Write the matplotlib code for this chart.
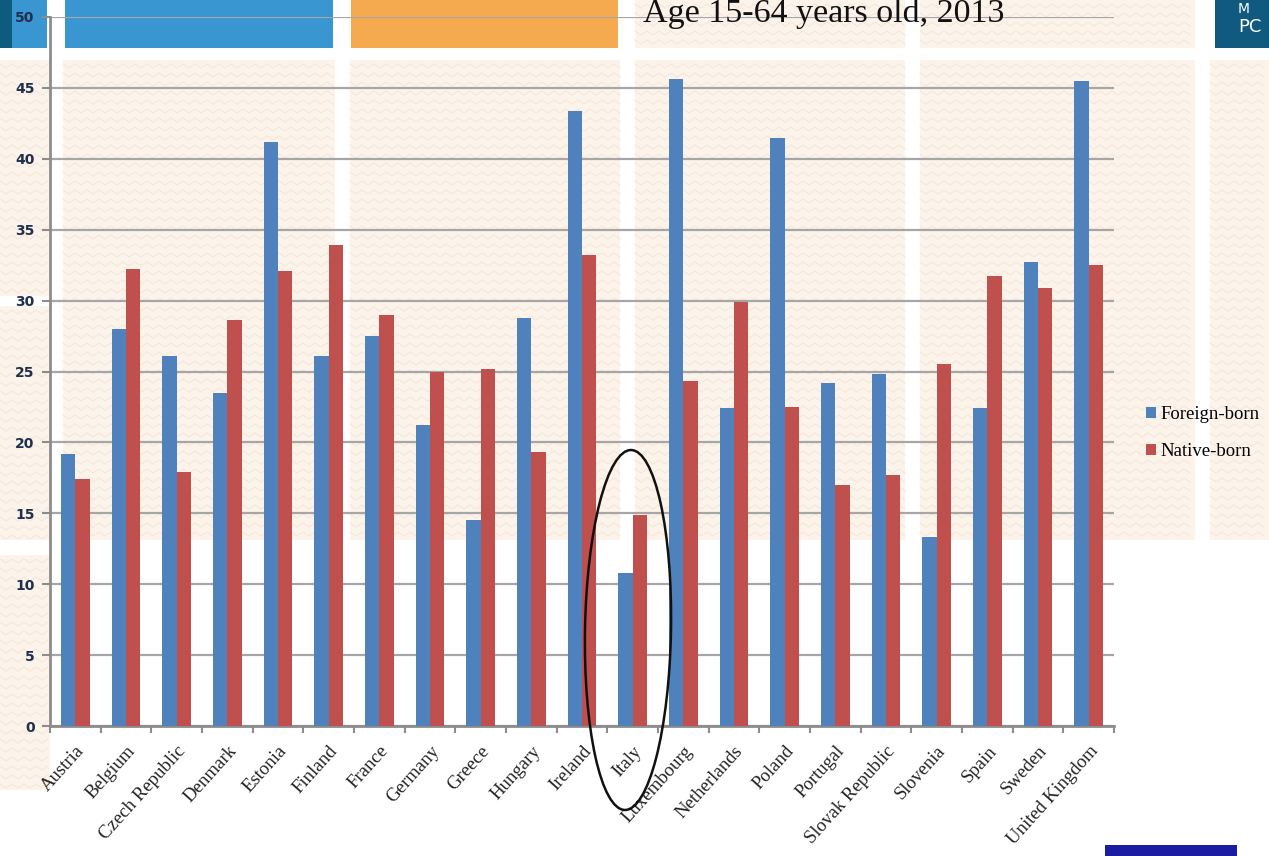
import matplotlib
matplotlib.use('Agg')
import matplotlib.pyplot as plt
from matplotlib.patches import Rectangle, Ellipse, Patch
import numpy as np

countries = ['Austria', 'Belgium', 'Czech Republic', 'Denmark', 'Estonia', 'Finland',
             'France', 'Germany', 'Greece', 'Hungary', 'Ireland', 'Italy', 'Luxembourg',
             'Netherlands', 'Poland', 'Portugal', 'Slovak Republic', 'Slovenia', 'Spain',
             'Sweden', 'United Kingdom']
foreign_born = [19.2, 28.0, 26.1, 23.5, 41.2, 26.1, 27.5, 21.2, 14.5, 28.8, 43.4,
                10.8, 45.6, 22.4, 41.5, 24.2, 24.8, 13.3, 22.4, 32.7, 45.5]
native_born = [17.4, 32.2, 17.9, 28.6, 32.1, 33.9, 29.0, 25.0, 25.2, 19.3, 33.2,
               14.9, 24.3, 29.9, 22.5, 17.0, 17.7, 25.5, 31.7, 30.9, 32.5]
y_ticks = list(range(0, 51, 5))
series_labels = ['Foreign-born', 'Native-born']
title = 'Age 15-64 years old, 2013'

W, H = 1269, 856
fig = plt.figure(figsize=(W / 100, H / 100), dpi=100)
fig.patch.set_facecolor('white')


def rect(x0, y0, x1, y1, color, z=-5):
    fig.add_artist(Rectangle((x0 / W, 1 - y1 / H), (x1 - x0) / W, (y1 - y0) / H,
                             transform=fig.transFigure, facecolor=color,
                             edgecolor='none', zorder=z))


def chevrons(x0, y0, x1, y1):
    xs = np.arange(x0, x1 + 1, 6.0)
    zig = np.where(((xs - x0) // 6) % 2 == 0, 0.0, 4.0)
    for yy in np.arange(y0 + 4, y1 - 4, 9.0):
        fig.add_artist(plt.Line2D(xs / W, 1 - (yy + zig) / H, transform=fig.transFigure,
                                  color='#F5E8DA', lw=0.8, zorder=-4))


# slide background tiles (beige pattern areas)
beige = '#FCF4EB'
cols = [(63, 335), (350, 620), (635, 905), (920, 1195), (1210, 1269)]
tiles = [(c0, 60, c1, 540) for (c0, c1) in cols]
tiles += [(0, 60, 50, 296), (0, 306, 50, 540), (0, 555, 50, 790),
          (635, 0, 905, 48), (920, 0, 1195, 48)]
for t in tiles:
    rect(*t, beige)
    chevrons(*t)

# coloured header blocks
rect(0, 0, 12, 48, '#0D5C80')
rect(12, 0, 47, 48, '#3A96D0')
rect(65, 0, 333, 48, '#3A96D0')
rect(351, 0, 618, 48, '#F5AA50')
rect(1215, 0, 1269, 48, '#0F5A7E')
rect(1105, 845, 1237, 856, '#1C1CA3')
fig.text(1238 / W, 1 - 2 / H, 'M', color='white', fontsize=10, family='DejaVu Sans',
         va='top')
fig.text(1238 / W, 1 - 32 / H, 'PC', color='white', fontsize=13, family='DejaVu Sans',
         va='baseline')

# chart
ax = fig.add_axes([50 / W, 1 - 726 / H, 1064 / W, (726 - 17) / H])
ax.patch.set_alpha(0)
x = np.arange(len(countries))
bw = 0.285
ax.bar(x - bw / 2, foreign_born, bw, color='#4F81BD', zorder=3)
ax.bar(x + bw / 2, native_born, bw, color='#C0504D', zorder=3)
ax.set_xlim(-0.5, len(countries) - 0.5)
ax.set_ylim(0, 50)
ax.set_yticks(y_ticks)
ax.yaxis.grid(True, color='#A6A6A6', lw=1.6)
ax.set_axisbelow(True)
for s in ['top', 'right']:
    ax.spines[s].set_visible(False)
for s in ['left', 'bottom']:
    ax.spines[s].set_color('#8C8C8C')
    ax.spines[s].set_linewidth(2)

ax.set_xticks(x)
ax.set_xticklabels(countries, rotation=48, ha='right', va='top', rotation_mode='anchor',
                   fontfamily='Liberation Serif', fontsize=13.5, color='#222222')
ax.tick_params(axis='x', which='major', length=0, pad=12)
ax.set_xticks(np.arange(-0.5, len(countries), 1), minor=True)
ax.tick_params(axis='x', which='minor', length=5, color='#8C8C8C', width=1.5)
ax.tick_params(axis='y', length=6, color='#8C8C8C', width=1.5, labelsize=10,
               labelcolor='#1F2F4F', pad=5)
for lab in ax.get_yticklabels():
    lab.set_fontweight('semibold')

# legend
handles = [Patch(facecolor='#4F81BD'), Patch(facecolor='#C0504D')]
fig.legend(handles=handles, labels=series_labels, loc='upper left',
           bbox_to_anchor=(1137 / W, 1 - 397 / H), frameon=False,
           handlelength=0.5, handleheight=0.5, handletextpad=0.25,
           labelspacing=1.05, borderpad=0,
           prop={'family': 'Liberation Serif', 'size': 13.5})

# title
fig.text(643 / W, 1 - 22 / H, title, fontfamily='Liberation Serif', fontsize=24.5,
         va='baseline', ha='left', color='#111111')

# ellipse highlighting Italy
fig.add_artist(Ellipse((6.28, (H - 630) / 100), 0.86, 3.6, angle=-1,
                       transform=fig.dpi_scale_trans, fill=False,
                       edgecolor='#111111', lw=1.8, zorder=10))

fig.savefig('out.png', dpi=100)
